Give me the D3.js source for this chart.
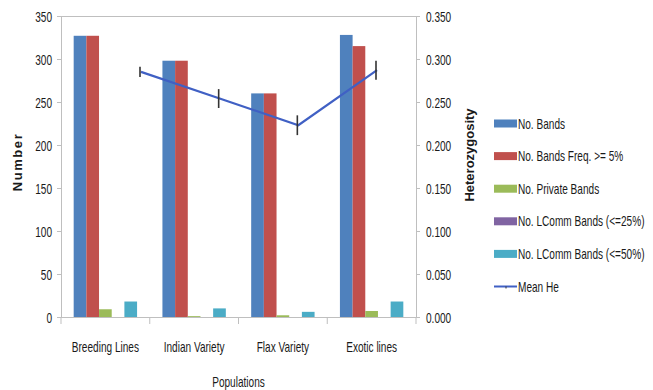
<!DOCTYPE html>
<html><head><meta charset="utf-8">
<script src="https://cdn.jsdelivr.net/npm/d3@7"></script>
<style>
body{margin:0;background:#fff;}
text{font-family:"Liberation Sans",Arial,sans-serif;fill:#1a1a1a;}
</style></head>
<body><svg id="c" width="653" height="390"></svg>
<script>
const categories = ["Breeding Lines","Indian Variety","Flax Variety","Exotic lines"];
const seriesNames = ["No. Bands","No. Bands Freq. >= 5%","No. Private Bands","No. LComm Bands (<=25%)","No. LComm Bands (<=50%)"];
const noBands = [327, 298, 260, 328];
const noBandsFreq5 = [327, 298, 260, 315];
const noPrivate = [9, 1, 2, 7];
const noLComm25 = [0, 0, 0, 0];
const noLComm50 = [18, 10, 6, 18];
const meanHe = [0.285, 0.254, 0.223, 0.287];
const meanHeErr = [0.006, 0.011, 0.0115, 0.011];
const leftTicks = [0,50,100,150,200,250,300,350];
const rightTicks = [0,0.05,0.1,0.15,0.2,0.25,0.3,0.35];
const colors = ["#4F81BD","#C0504D","#9BBB59","#8064A2","#4BACC6"];
const lineColor = "#4060C4";

const series = [noBands, noBandsFreq5, noPrivate, noLComm25, noLComm50];
const svg = d3.select("#c");
const L = 61, R = 416, T = 16, B = 317;
const axisCol = "#BFBFBF";
const SX = 0.72, FS = "14px";

function ctext(parent, x, y, str, anchor){
  return parent.append("text").attr("transform",`translate(${x},${y}) scale(${SX},1)`)
    .attr("text-anchor",anchor||"start").style("font-size",FS).text(str);
}

const x0 = d3.scaleBand().domain(categories).range([L, R]).paddingInner(0).paddingOuter(0);
const bw = x0.bandwidth() / 7;
const yL = d3.scaleLinear().domain([0,350]).range([B,T]);
const yR = d3.scaleLinear().domain([0,0.35]).range([B,T]);
const xLine = d3.scalePoint().domain(categories).range([L + 80, R - 39]);

// plot border top
svg.append("line").attr("x1",L).attr("x2",R).attr("y1",T+0.5).attr("y2",T+0.5).attr("stroke",axisCol);

// left axis
const gl = svg.append("g").attr("transform",`translate(${L},0)`)
  .call(d3.axisLeft(yL).tickValues(leftTicks).tickSize(4).tickFormat(d3.format("d")));
// right axis
const gr = svg.append("g").attr("transform",`translate(${R},0)`)
  .call(d3.axisRight(yR).tickValues(rightTicks).tickSize(4).tickFormat(d3.format(".3f")));
[[gl,-9],[gr,10]].forEach(([g,off])=>{
  g.select(".domain").attr("stroke",axisCol);
  g.selectAll(".tick line").attr("stroke",axisCol);
  g.selectAll("text").style("font-size",FS).attr("fill","#1a1a1a")
   .attr("x", off/SX).attr("transform",`scale(${SX},1)`).attr("dy","0.36em");
});

// bars
categories.forEach((c,ci)=>{
  series.forEach((s,si)=>{
    const v = s[ci];
    if (v <= 0) return;
    svg.append("rect")
      .attr("x", x0(c) + bw + si*bw)
      .attr("width", bw)
      .attr("y", yL(v))
      .attr("height", B - yL(v))
      .attr("fill", colors[si]);
  });
});

// bottom axis
const gb = svg.append("g").attr("transform",`translate(0,${B})`);
gb.append("line").attr("x1",L).attr("x2",R).attr("y1",0.5).attr("y2",0.5).attr("stroke",axisCol);
const bounds = categories.map(c=>x0(c)).concat([R]);
bounds.forEach(bx=>gb.append("line").attr("x1",bx).attr("x2",bx).attr("y1",0).attr("y2",7).attr("stroke",axisCol));
categories.forEach(c=>{
  ctext(gb, x0(c)+x0.bandwidth()/2, 34.5, c, "middle");
});

// mean He line
const lineGen = d3.line().x((d,i)=>xLine(categories[i])).y(d=>yR(d));
svg.append("path").datum(meanHe).attr("d",lineGen).attr("fill","none").attr("stroke",lineColor).attr("stroke-width",2.2);
meanHe.forEach((v,i)=>{
  svg.append("line").attr("x1",xLine(categories[i])-1).attr("x2",xLine(categories[i])-1)
    .attr("y1",yR(v+meanHeErr[i])).attr("y2",yR(v-meanHeErr[i]))
    .attr("stroke","#333").attr("stroke-width",1.6);
});

// axis titles
svg.append("text").attr("transform","translate(22,162) rotate(-90)").attr("text-anchor","middle")
  .style("font-size","13px").style("font-weight","bold").style("letter-spacing","1.6px").text("Number");
svg.append("text").attr("transform","translate(474,155) rotate(-90)").attr("text-anchor","middle")
  .style("font-size","13px").style("font-weight","bold").text("Heterozygosity");
ctext(svg, (L+R)/2, 387, "Populations", "middle");

// legend
const legY0 = 123.5, legStep = 32.6;
seriesNames.forEach((n,i)=>{
  const y = legY0 + i*legStep;
  svg.append("rect").attr("x",494).attr("y",y-4).attr("width",23).attr("height",8).attr("fill",colors[i]);
  ctext(svg, 518, y+5, n, "start");
});
const ly = legY0 + 5*legStep;
svg.append("line").attr("x1",494).attr("x2",517).attr("y1",ly).attr("y2",ly).attr("stroke",lineColor).attr("stroke-width",2);
svg.append("line").attr("x1",506).attr("x2",506).attr("y1",ly).attr("y2",ly+2).attr("stroke","#333").attr("stroke-width",1);
ctext(svg, 518, ly+5, "Mean He", "start");
</script></body></html>
